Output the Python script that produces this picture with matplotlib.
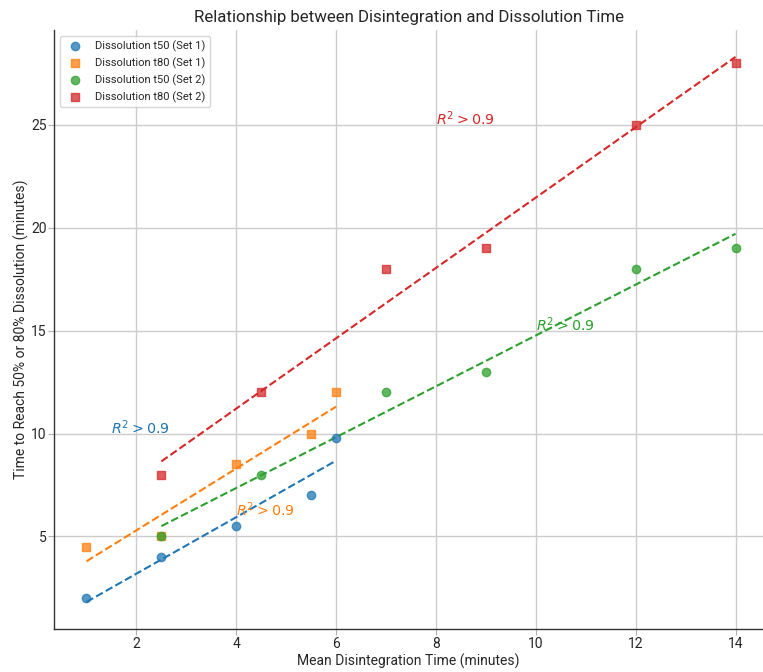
import numpy as np
import matplotlib.pyplot as plt
import seaborn as sns

sns.set_style("whitegrid")
plt.rcParams['font.family'] = ['Roboto', 'DejaVu Sans']

# set 1 data
x_set1 = [1, 2.5, 4, 5.5, 6]
t50_set1 = [2, 4, 5.5, 7, 9.8]
t80_set1 = [4.5, 5, 8.5, 10, 12]

# set 2 data
x_set2 = [2.5, 4.5, 7, 9, 12, 14]
t50_set2 = [5, 8, 12, 13, 18, 19]
t80_set2 = [8, 12, 18, 19, 25, 28]

labels = ["Dissolution t50 (Set 1)", "Dissolution t80 (Set 1)",
          "Dissolution t50 (Set 2)", "Dissolution t80 (Set 2)"]
colors = ["#1f77b4", "#ff7f0e", "#2ca02c", "#d62728"]
markers = ["o", "s", "o", "s"]
r2_pos = [(1.5, 10), (4, 6), (10, 15), (8, 25)]

series = [(x_set1, t50_set1), (x_set1, t80_set1),
          (x_set2, t50_set2), (x_set2, t80_set2)]

fig = plt.figure(figsize=(7.63, 6.72), dpi=100)
ax = fig.add_axes([0.0708, 0.064, 0.9292, 0.891])

for (x, y), lab, c, m, pos in zip(series, labels, colors, markers, r2_pos):
    x = np.array(x)
    y = np.array(y)
    ax.scatter(x, y, color=c, marker=m, s=36, alpha=0.75, label=lab, zorder=3)
    k, b = np.polyfit(x, y, 1)
    xs = np.array([x.min(), x.max()])
    ax.plot(xs, k * xs + b, "--", color=c, lw=1.5, zorder=2)
    ax.text(pos[0], pos[1], r"$R^2 > 0.9$", color=c, fontsize=10.3)

ax.set_xlim(0.35, 14.55)
ax.set_ylim(0.5, 29.6)
ax.set_xticks([2, 4, 6, 8, 10, 12, 14])
ax.set_yticks([5, 10, 15, 20, 25])
ax.tick_params(axis="both", length=4, color="#b0b0b0", labelsize=10, pad=1.5, left=True, bottom=True)
for s in ["top", "right"]:
    ax.spines[s].set_visible(False)
for s in ["left", "bottom"]:
    ax.spines[s].set_color("#333333")
    ax.spines[s].set_linewidth(1.0)
ax.grid(True, color="#cccccc", lw=1)

ax.set_xlabel("Mean Disintegration Time (minutes)", fontsize=10, labelpad=2)
ax.set_ylabel("Time to Reach 50% or 80% Dissolution (minutes)", fontsize=10, labelpad=1)
ax.set_title("Relationship between Disintegration and Dissolution Time", fontsize=12.2)
ax.legend(loc="upper left", fontsize=8, frameon=True)

plt.savefig("out.png", dpi=100)
